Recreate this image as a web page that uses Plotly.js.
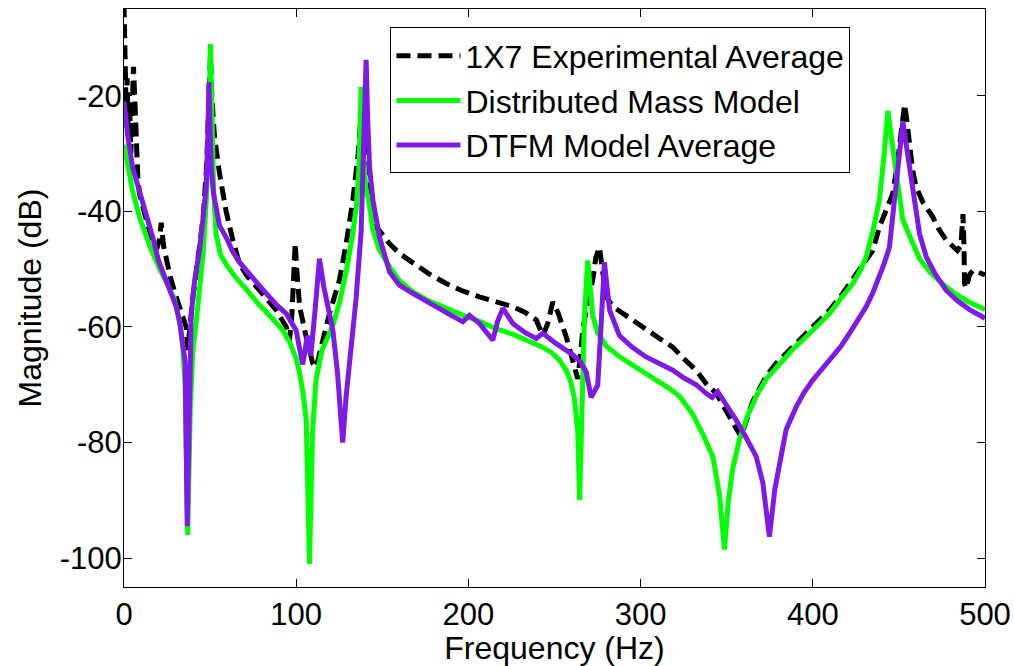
<!DOCTYPE html>
<html>
<head>
<meta charset="utf-8">
<script src="https://cdn.plot.ly/plotly-3.0.1.min.js"></script>
<style>html,body{margin:0;padding:0;background:#fff;}#chart{width:1014px;height:666px;}</style>
</head>
<body>
<div id="chart"></div>
<script>
// ---- 1X7 Experimental Average ----
const expFreq = [0,0.6,1.2,1.8,2.5,3.2,4,4.8,5.5,6.2,7,8,9,11,13,16,19,20.5,21.6,23,24.5,27,30.3,33,36.1,37,38,40,42,43.8,46,48,49.5,50.2,51,52.5,55.5,59.3,63.2,67,71,76.8,82,88.4,94.2,96.1,97.5,98.7,99.4,100.3,102,105.8,109.6,111.6,115,119.3,125.1,129,132.9,136,138.5,139.3,140.5,142,144,146.5,150,154.2,160,167.7,177,187.1,196,206.4,216,225.8,233,239.4,243.2,246,249,252,256.8,260,262.6,263.5,265,266.4,269,272.2,274,276.1,278,280,284,289.7,296,303.2,311,318.7,325,332.3,338,343.9,348,351.6,355,358.4,362,365,369.5,373,378.7,387,396.2,403,409.7,416,421.3,428,434.8,438.7,442,446.4,449,451,453.3,454.5,456.2,458,460,464,469.7,473,477.5,481,484,486,487.2,487.8,488.1,489,491,493,496,498.7,500];
const expMag = [-4,-12,-22,-17,-27,-21,-30,-22,-15,-20,-29,-34,-37,-39.5,-41.5,-44.5,-46.5,-45,-42,-46,-48.5,-51.5,-54.8,-57,-60,-64,-60,-54.8,-50.5,-46.8,-41,-32,-20,-13,-20,-27,-33.5,-40,-45,-49,-51,-53.1,-55,-57.1,-60,-62.3,-58,-48,-45.5,-50,-56.5,-61.7,-66.3,-67,-62.5,-57.7,-51.9,-45.6,-38.1,-30,-20,-18.5,-25,-35,-40.5,-42.7,-44,-45.6,-47.3,-49,-50.8,-52.5,-53.7,-54.8,-55.7,-56.5,-57.5,-58.8,-61.5,-59.5,-55.7,-57.5,-61.7,-65,-67.5,-69,-65,-60.6,-56,-51.9,-48,-46.2,-50.5,-54.8,-56.5,-57.7,-59,-60.6,-62,-63.5,-65.5,-67.5,-69.8,-71.5,-73.5,-75.5,-77.3,-79,-76,-73,-70.4,-68.5,-66.3,-63.8,-61.1,-59.2,-57.1,-54.8,-52.5,-49.7,-46.8,-42.7,-40,-37,-32,-27,-21.5,-24,-29.5,-33,-35.8,-38.5,-41,-43,-45,-46,-46.8,-46,-40.5,-46,-52.5,-53.3,-51,-50.2,-50.5,-50.8,-51];

// ---- Distributed Mass Model ----
const dmFreq = [0,2,5,9,15,20,25,29,32,34,35.5,37,38.5,40,42,44,46,48,49.5,50.2,51,52,53.5,56,60,65,71,78,86,92,96,100,102,104,105.8,107.7,109.5,111.6,115,121,125,129,132.8,135,136.5,137.7,139,140.5,142.6,144.4,148,154,160,168,177,187,197,206,216,226,235.5,243,249,253,256.8,259.5,261.6,263.5,264.6,266,267.4,269.3,270.8,272.2,275,280,287,293.5,301,309,316,322.6,330,336,342,345.8,348.7,351,353.5,357.4,362,367.1,373,380.7,388,396.2,403,409.7,416,423.2,428,431,434.8,438.7,441.5,443.6,446,448.4,452.3,458,462,468,475.5,483,490,498.7,500];
const dmMag = [-28.5,-32,-36.5,-41,-46,-49.5,-52.5,-55,-58.5,-63,-70,-96,-74,-64,-59,-53,-47,-37,-24,-11,-24,-36,-44,-47.5,-49.5,-51.5,-53.5,-56,-58.5,-60.5,-62.5,-65.5,-68,-71.5,-76,-101,-78,-69,-64,-60,-56,-50.5,-44,-39,-32,-18.5,-30,-36,-39,-43,-46.5,-49.5,-52,-54,-55.5,-56.8,-58,-59,-60.3,-61.3,-62.5,-63.5,-64.6,-65.8,-67.5,-69.5,-72.5,-78,-90,-70,-58,-48.5,-54,-58,-61,-63.3,-65,-66.3,-67.8,-69.2,-70.5,-72,-75,-78.5,-82.5,-89,-98.5,-90,-84.5,-79.5,-75.5,-72,-69,-66.3,-64,-61.7,-59.7,-57.7,-55.2,-52.5,-50,-47.9,-43.5,-38,-30,-22.6,-28,-33,-41.5,-45.5,-48.2,-50.5,-52.6,-54.3,-55.6,-56.8,-57];

// ---- DTFM Model Average ----
const dtfmFreq = [0,1,2.2,5,8,11,14,16.7,20,24.5,28,30.3,32.5,34.1,35.5,36.7,38,39,41,43.8,46,47.7,48.7,49.3,50,50.6,52,53.5,55.5,59.3,63.2,67,71,77,82.6,88,94.2,100,101.8,103.8,106.5,108.5,111,113.5,116,121.3,124,127,129,131,134.8,137.7,138.7,140,140.6,141.5,142.6,144.5,148.4,154.2,160,167.7,175,181.3,190,196.8,200.6,206.4,211,214.2,217,220,225.8,233,239.4,243.2,251,256,260.6,265,268.4,271.3,275.1,277,279,280.5,282,287.7,295,303.2,311,318.7,325,332.3,338,341.5,344.8,350,355.5,361,367.1,371,374.8,378,380.7,384.5,390.4,395,400,405,411.6,416,421.3,426,431,435,438.7,441.5,444.5,446.4,448.5,450.3,452.3,454,456.2,459,462,465.9,471,477.5,484,491,498.7,500];
const dtfmMag = [-21,-24,-27,-32.4,-35.5,-38.5,-41.5,-44.5,-48.5,-52,-54.5,-56.5,-59.5,-62.3,-66,-94.5,-68,-58,-52,-46.8,-41,-35.8,-27,-17.7,-26,-32.4,-37,-39.5,-42.5,-44.5,-47,-48.8,-50.3,-52.3,-54.2,-56,-57.7,-60.6,-63.5,-66.5,-61.5,-65,-57,-48.2,-53,-60.6,-68,-80,-72,-66,-55,-43.5,-33,-20,-13.8,-24,-32.4,-38,-44.5,-50.5,-52.8,-54.2,-55.5,-56.5,-58,-59.1,-58,-59.4,-61,-62.3,-59,-56.8,-59.4,-61,-62,-61.1,-62.9,-63.8,-64.8,-66,-67.8,-72.2,-70.1,-60,-48.8,-53,-57.1,-61.5,-63.5,-65.2,-66.3,-67.5,-68.8,-70,-71.5,-72.2,-71.2,-73.5,-76.1,-79,-82.4,-87,-96.3,-88,-83.6,-77.8,-73.8,-71.3,-69.2,-67.5,-65.2,-63.5,-61.1,-59,-56.5,-54,-51.4,-49,-46.2,-41,-35,-29.5,-24.5,-28,-32.4,-38,-43.9,-47.9,-50.8,-53.7,-55.5,-57,-58.3,-58.5];

const seriesNames = ['1X7 Experimental Average', 'Distributed Mass Model', 'DTFM Model Average'];
const xTicks = [0, 100, 200, 300, 400, 500];
const yTicks = [-100, -80, -60, -40, -20];

const FONT = 'Liberation Sans, Arial, sans-serif';

const traces = [
  {x: expFreq, y: expMag, name: seriesNames[0], mode: 'lines',
   line: {color: '#000000', width: 5, dash: '14px,7px'}},
  {x: dmFreq, y: dmMag, name: seriesNames[1], mode: 'lines',
   line: {color: '#00FF00', width: 5}},
  {x: dtfmFreq, y: dtfmMag, name: seriesNames[2], mode: 'lines',
   line: {color: '#7F1AE6', width: 5}}
];

const axisCommon = {
  showline: true, linecolor: '#000', linewidth: 1, mirror: 'ticks',
  ticks: 'inside', ticklen: 8, tickwidth: 1, tickcolor: '#000',
  showgrid: false, zeroline: false,
  tickfont: {family: FONT, size: 31, color: '#000'}
};

const layout = {
  width: 1014, height: 666,
  margin: {l: 124, r: 29, t: 9, b: 79},
  paper_bgcolor: '#fff', plot_bgcolor: '#fff',
  font: {family: FONT, color: '#000'},
  showlegend: true,
  xaxis: Object.assign({}, axisCommon, {
    range: [0, 500], tickvals: xTicks, ticktext: xTicks.map(String),
    title: {text: 'Frequency (Hz)', font: {family: FONT, size: 32, color: '#000'}, standoff: 6}
  }),
  yaxis: Object.assign({}, axisCommon, {
    range: [-105, -5], tickvals: yTicks, ticktext: yTicks.map(String),
    ticklabelstandoff: -5,
    title: {text: 'Magnitude (dB)', font: {family: FONT, size: 32, color: '#000'}, standoff: 8}
  }),
  legend: {
    x: 0.3095, y: 0.968, xanchor: 'left', yanchor: 'top',
    bgcolor: '#fff', bordercolor: '#000', borderwidth: 1,
    font: {family: FONT, size: 32, color: '#000'},
    itemwidth: 64, tracegroupgap: 0
  }
};

Plotly.newPlot('chart', traces, layout, {displayModeBar: false, staticPlot: true});
</script>
</body>
</html>
